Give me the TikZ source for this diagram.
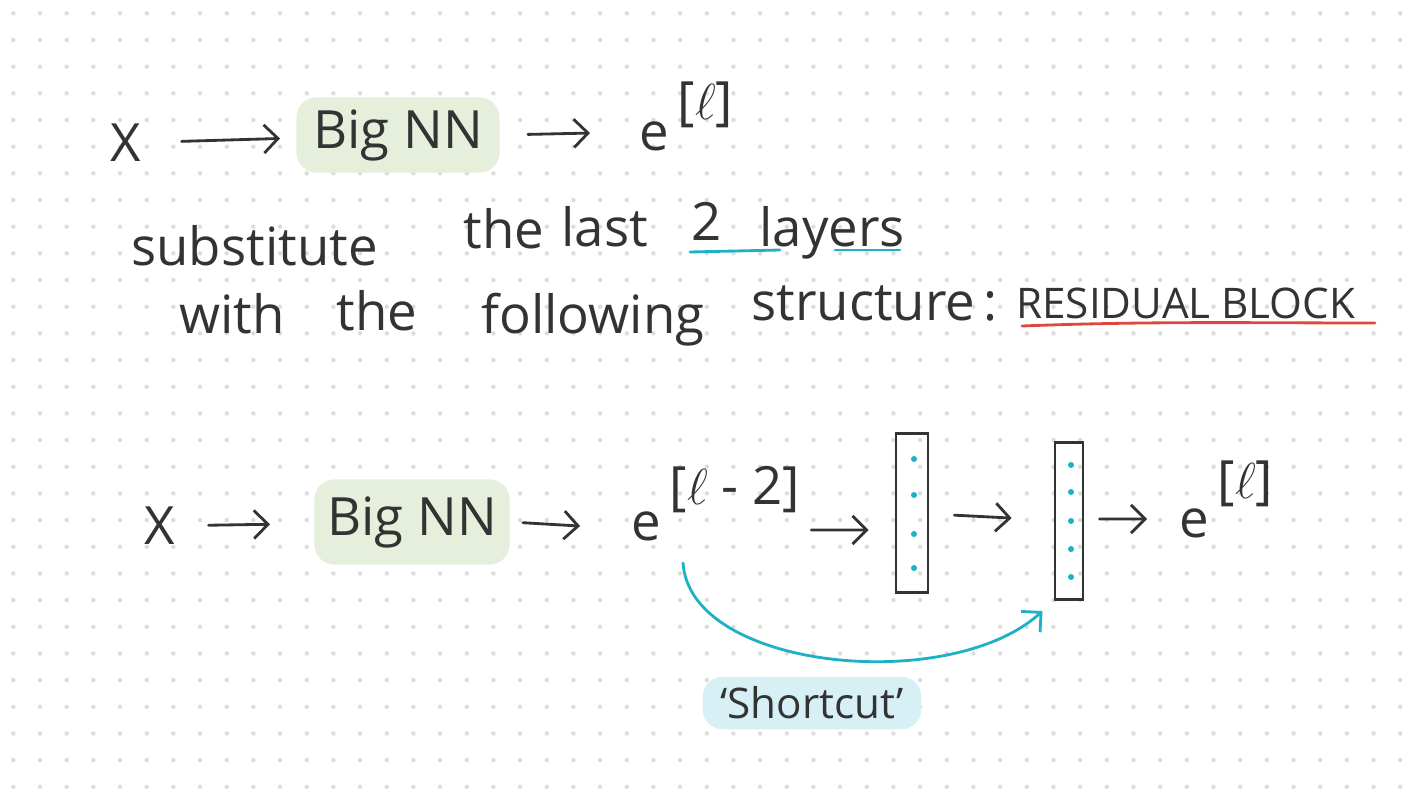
\documentclass[tikz,border=0pt]{standalone}
\usepackage{fontspec}
\setmainfont{Open Sans}
\usetikzlibrary{arrows.meta}
\definecolor{ink}{HTML}{333333}
\definecolor{leaf}{HTML}{E5EFDC}
\definecolor{sky}{HTML}{1EB1C6}
\definecolor{ice}{HTML}{D6F0F5}
\definecolor{redline}{HTML}{E0473C}
\definecolor{griddot}{HTML}{DCDCDC}
\tikzset{
	hand/.style={font=\fontsize{15}{18}\selectfont, text=ink, inner sep=0pt},
	caps/.style={font=\fontsize{12}{14}\selectfont, text=ink, inner sep=0pt},
	blob/.style={hand, fill=leaf, rounded corners=0.2cm},
	layer/.style={draw=ink, thick, inner sep=0pt},
	flow/.style={draw=ink, thick, ->},
	neuron/.style={fill=sky},
}
\begin{document}
\begin{tikzpicture}[x=0.01cm, y=-0.01cm, thick, line cap=round,
	>={Straight Barb[length=4pt,width=8pt]}]
	\fill[white] (0,0) rectangle (1422,800);
	\useasboundingbox (0,0) rectangle (1422,800);
	\foreach \i in {0,...,53}
		\foreach \j in {0,...,29}
			\fill[griddot] (13.33+26.67*\i,13.33+26.67*\j) circle (0.022cm);

	% first line
	\node[hand] (x1) at (126,143) {X};
	\node[blob, minimum width=2.03cm, minimum height=0.75cm] (nn1) at (398,135) {Big NN};
	\node[hand, anchor=base west] (e1) at (638,150) {e\,\raisebox{0.3cm}{[$\ell$]}};
	\draw[flow, shorten <=0.39cm, shorten >=0.15cm] (x1) -- (nn1);
	\draw[flow, shorten <=0.27cm, shorten >=0.48cm] (nn1.east) -- ([yshift=0.18cm]e1.base west);

	% the text
	\node[hand, anchor=base west] (w1) at (130,265) {substitute};
	\node[hand, anchor=base west] (w2) at (462,248) {the};
	\node[hand, anchor=base west] (w3) at (560,246) {last};
	\node[hand, anchor=base west] (w4) at (690,240) {2};
	\node[hand, anchor=base west] (w5) at (758,246) {layers};
	\draw[sky] (690,252) -- (780,250);
	\draw[sky] (835,250) -- (900,250);

	\node[hand, anchor=base west] (w6) at (178,333) {with};
	\node[hand, anchor=base west] (w7) at (335,330) {the};
	\node[hand, anchor=base west] (w8) at (480,333) {following};
	\node[hand, anchor=base west] (w9) at (750,320) {structure};
	\node[hand, anchor=base west] (w10) at (982,320) {:};
	\node[caps, anchor=base west] (res) at (1015,318) {RESIDUAL BLOCK};
	\draw[redline] (1022,326) .. controls (1150,321) and (1250,323) .. (1375,323);

	% residual block
	\node[hand] (x2) at (160,526) {X};
	\node[blob, minimum width=1.95cm, minimum height=0.85cm] (nn2) at (412,522) {Big NN};
	\node[hand, anchor=base west] (e2) at (630,540) {e\,\raisebox{0.35cm}{[$\ell$ - 2]}};
	\node[layer, minimum width=0.32cm, minimum height=1.59cm] (l1) at (912,513) {};
	\node[layer, minimum width=0.28cm, minimum height=1.57cm] (l2) at (1069,521) {};
	\node[hand, anchor=base west] (e3) at (1178,537) {e\,\raisebox{0.38cm}{[$\ell$]}};
	\foreach \y in {459,495,534,568}
		\fill[neuron] (914,\y) circle (0.03cm);
	\foreach \y in {465,492,521,549,577}
		\fill[neuron] (1071,\y) circle (0.03cm);

	\draw[flow, shorten <=0.32cm, shorten >=0.43cm] (x2) -- (nn2);
	\draw[flow, shorten <=0.12cm, shorten >=0.5cm] (nn2.east) -- ([yshift=0.11cm]e2.base west);
	\draw[flow, shorten <=0.1cm, shorten >=0.26cm] ([yshift=0.1cm]e2.base east) -- ([yshift=-0.17cm]l1.west);
	\draw[flow, shorten <=0.25cm, shorten >=0.42cm] (l1) -- (l2);
	\draw[flow, shorten <=0.15cm, shorten >=0.31cm] ([yshift=0.02cm]l2.east) -- ([yshift=0.18cm]e3.base west);

	\node[hand, font=\fontsize{12}{14}\selectfont, fill=ice, rounded corners=0.2cm, inner xsep=0.18cm, inner ysep=0.1cm] (sc) at (812,703) {`Shortcut'};
	\draw[sky, ->, shorten >=0.15cm] ([xshift=0.53cm,yshift=-0.23cm]e2.base west)
		.. controls (690,670) and (950,695) .. (l2.south west);
\end{tikzpicture}
\end{document}
